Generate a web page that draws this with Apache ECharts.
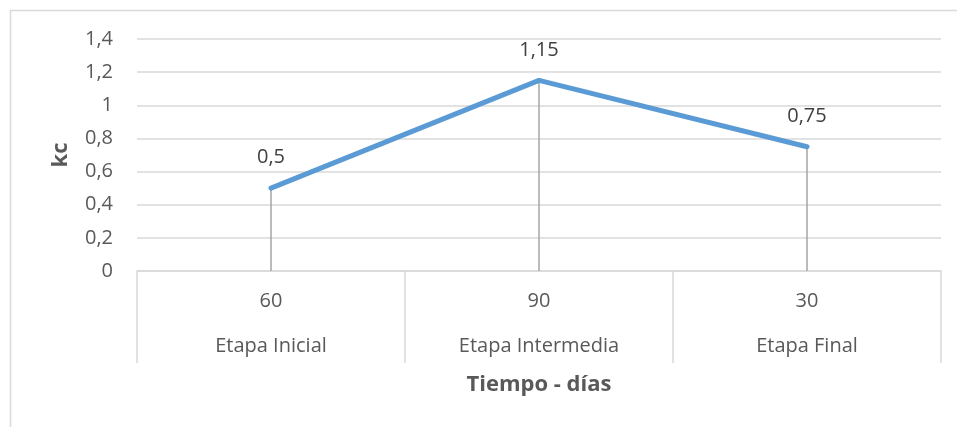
<!DOCTYPE html>
<html>
<head>
<meta charset="utf-8">
<script src="https://cdn.jsdelivr.net/npm/echarts@6/dist/echarts.min.js"></script>
<style>
html,body{margin:0;padding:0;background:#fff;}
#chart{width:957px;height:427px;}
</style>
</head>
<body>
<div id="chart"></div>
<script>
const durations = ['60', '90', '30'];
const stages = ['Etapa Inicial', 'Etapa Intermedia', 'Etapa Final'];
const kcValues = [0.5, 1.15, 0.75];
const yTicks = { min: 0, max: 1.4, interval: 0.2 };
const yTitle = 'kc';
const xTitle = 'Tiempo - días';

const FONT = 'Open Sans';
const comma = v => String(v).replace('.', ',');

const chart = echarts.init(document.getElementById('chart'), null, { renderer: 'canvas' });
chart.setOption({
  animation: false,
  backgroundColor: '#ffffff',
  textStyle: { fontFamily: FONT },
  graphic: [{
    type: 'rect', silent: true, z: -10,
    shape: { x: 10.5, y: 10.5, width: 1000, height: 1000 },
    style: { fill: 'none', stroke: '#d9d9d9', lineWidth: 1.5 }
  }],
  grid: { left: 137, right: 16, top: 39, bottom: 156, containLabel: false },
  xAxis: [{
    type: 'category', data: durations, boundaryGap: true,
    axisLine: { show: true, lineStyle: { color: '#d9d9d9', width: 1.5 } },
    axisTick: { show: true, length: 92, lineStyle: { color: '#d9d9d9', width: 1.5 } },
    axisLabel: { margin: 20, color: '#595959', fontSize: 20, fontFamily: FONT },
    splitLine: { show: false }
  }, {
    type: 'category', data: stages, boundaryGap: true, position: 'bottom',
    axisLine: { show: false }, axisTick: { show: false },
    axisLabel: { margin: 65, color: '#595959', fontSize: 20, fontFamily: FONT },
    name: xTitle, nameLocation: 'middle', nameGap: 103,
    nameTextStyle: { fontSize: 22, fontWeight: 'bold', color: '#595959', fontFamily: FONT }
  }],
  yAxis: {
    type: 'value', min: yTicks.min, max: yTicks.max, interval: yTicks.interval,
    axisLine: { show: false }, axisTick: { show: false },
    axisLabel: { margin: 24, color: '#595959', fontSize: 20, fontFamily: FONT, formatter: v => comma(+v.toFixed(1)) },
    splitLine: { lineStyle: { color: '#d9d9d9', width: 1.5 } },
    name: yTitle, nameLocation: 'middle', nameRotate: 90, nameGap: 65,
    nameTextStyle: { fontSize: 22, fontWeight: 'bold', color: '#595959', fontFamily: FONT }
  },
  series: [{
    type: 'bar', data: kcValues, barWidth: 1.5, xAxisIndex: 0,
    itemStyle: { color: '#a5a5a5' }, z: 1, silent: true
  }, {
    type: 'line', data: kcValues, xAxisIndex: 0, z: 3,
    symbol: 'circle', symbolSize: 1, showSymbol: true,
    itemStyle: { color: '#5b9bd5' },
    lineStyle: { color: '#5b9bd5', width: 5, cap: 'round', join: 'round' },
    label: { show: true, position: 'top', distance: 20, color: '#404040', fontSize: 20, fontFamily: FONT, formatter: p => comma(p.value) }
  }]
});
</script>
</body>
</html>
